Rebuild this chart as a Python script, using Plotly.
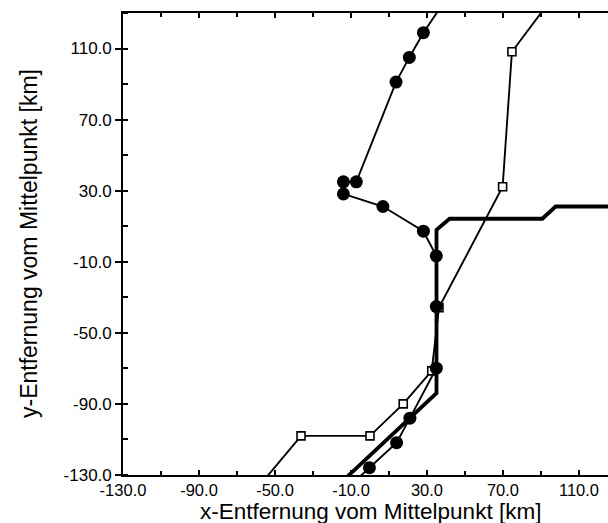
import plotly.graph_objects as go

# Track with filled circles (km from centre); the two end points lie beyond the frame
circ_x = [39.5, 28.1, 20.7, 13.7, -7.2, -14.0, -14.0, 6.8, 28.1, 34.9, 34.9, 34.9, 21.0, 14.0, -0.3, -10.0]
circ_y = [137.0, 118.9, 105.0, 91.1, 35.0, 35.0, 28.2, 21.1, 7.2, -6.7, -35.2, -69.9, -98.0, -111.8, -125.9, -135.5]

# Track with open squares
sq_x = [94.2, 74.7, 69.8, 36.3, 32.5, 17.5, 0.0, -36.3, -58.2]
sq_y = [136.0, 108.2, 32.2, -35.8, -71.4, -90.0, -108.0, -108.0, -136.0]

# Reference path (thick line)
ref_x = [-14.0, 35.0, 35.0, 41.9, 90.7, 97.7, 135.0]
ref_y = [-133.0, -84.0, 8.0, 14.2, 14.2, 21.1, 21.1]

x_ticks = [-130, -90, -50, -10, 30, 70, 110]
y_ticks = [-130, -90, -50, -10, 30, 70, 110]

x_title = "x-Entfernung vom Mittelpunkt [km]"
y_title = "y-Entfernung vom Mittelpunkt [km]"

W, H = 608, 523
ML, MR, MT, MB = 123, 0, 13, 48
px_per_km_x = 1.9
x_max = -130 + (W - ML - MR) / px_per_km_x

FONT = "Liberation Sans, Arial, Helvetica, sans-serif"

fig = go.Figure()
fig.add_trace(go.Scatter(
    x=ref_x, y=ref_y, mode="lines",
    line=dict(color="black", width=3.8), hoverinfo="skip", showlegend=False))
fig.add_trace(go.Scatter(
    x=sq_x, y=sq_y, mode="lines+markers",
    line=dict(color="black", width=1.9),
    marker=dict(symbol="square", size=8, color="white", line=dict(color="black", width=1.6)),
    showlegend=False))
fig.add_trace(go.Scatter(
    x=circ_x, y=circ_y, mode="lines+markers",
    line=dict(color="black", width=1.9),
    marker=dict(symbol="circle", size=13, color="black", line=dict(width=0)),
    showlegend=False))

fig.update_layout(
    width=W, height=H,
    margin=dict(l=ML, r=MR, t=MT, b=MB, pad=0),
    paper_bgcolor="white", plot_bgcolor="white",
    font=dict(family=FONT, color="black"),
    xaxis=dict(
        range=[-130, x_max], tickmode="array", tickvals=x_ticks,
        ticktext=[f"{v:.1f}" for v in x_ticks],
        ticks="inside", ticklen=5, tickwidth=1.5, tickcolor="black",
        minor=dict(ticks="inside", ticklen=4, tickwidth=1.5, tickcolor="black", dtick=20, tick0=-130),
        showline=True, linecolor="black", linewidth=1.6, mirror="ticks",
        showgrid=False, zeroline=False,
        ticklabelstandoff=-1,
        tickfont=dict(size=16.5, family=FONT),
    ),
    yaxis=dict(
        range=[-130, 130], tickmode="array", tickvals=y_ticks,
        ticktext=[f"{v:.1f}" for v in y_ticks],
        ticks="outside", ticklen=6, tickwidth=1.5, tickcolor="black",
        minor=dict(ticks="inside", ticklen=5, tickwidth=1.5, tickcolor="black", dtick=20, tick0=-130),
        showline=True, linecolor="black", linewidth=1.6, mirror=False,
        showgrid=False, zeroline=False,
        tickfont=dict(size=17, family=FONT),
    ),
    annotations=[
        dict(text=x_title, xref="x", x=0, yref="paper", y=-0.079,
             xanchor="center", yanchor="middle", showarrow=False,
             font=dict(size=22.5, family=FONT)),
        dict(text=y_title, xref="paper", x=-0.1938, yref="y", y=0,
             xanchor="center", yanchor="middle", textangle=-90, showarrow=False,
             font=dict(size=23, family=FONT)),
    ],
)

fig.write_html("out.html")
